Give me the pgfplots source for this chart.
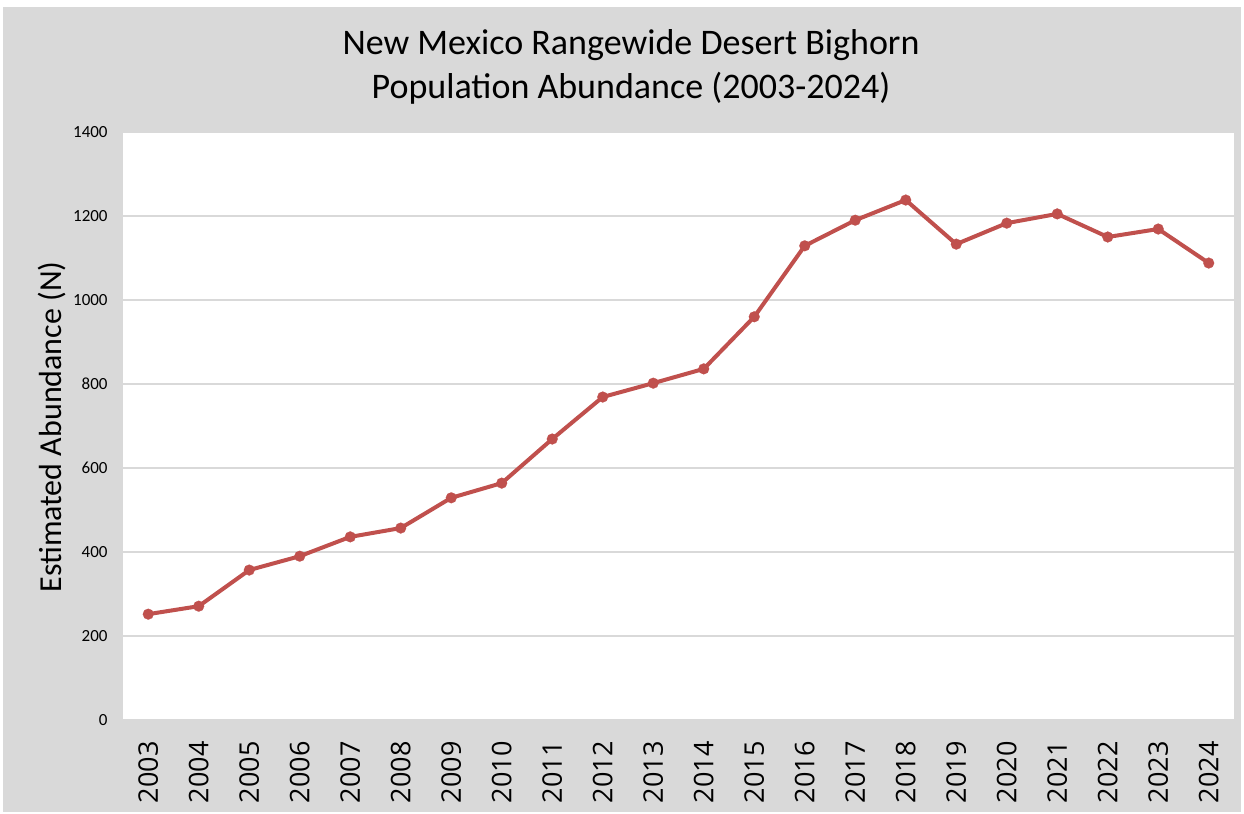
\documentclass[border=0pt]{standalone}
\usepackage{fontspec}
\setmainfont{Carlito}
\newfontfamily\xfont{Open Sans}
\usepackage{pgfplots}
\pgfplotsset{compat=1.18}
\definecolor{bggray}{HTML}{D9D9D9}
\definecolor{gridgray}{HTML}{D9D9D9}
\definecolor{linered}{HTML}{C0504D}
\begin{document}
\begin{tikzpicture}[x=1pt,y=1pt]
\useasboundingbox (0,0) rectangle (622,407);
\fill[white] (0,0) rectangle (622,407);
\fill[bggray] (1.5,1) rectangle (620.5,403.5);
\node[font=\fontsize{18}{21}\selectfont] at (315.5,384.5) {New Mexico Rangewide Desert Bighorn};
\node[font=\fontsize{18}{21}\selectfont] at (315.5,363) {Population Abundance (2003-2024)};
\node[font=\fontsize{16}{19}\selectfont, rotate=90] at (26,193.5) {Estimated Abundance (N)};
\begin{axis}[
  at={(61.5pt,47pt)}, anchor=south west,
  scale only axis, width=555.5pt, height=294pt,
  xmin=-0.5, xmax=21.5, ymin=0, ymax=1400,
  axis background/.style={fill=white},
  axis line style={draw=none},
  major tick length=0pt,
  ytick={0,200,...,1400},
  ymajorgrids, grid style={gridgray, line width=0.6pt},
  xtick={0,...,21},
  xticklabels={2003,2004,2005,2006,2007,2008,2009,2010,2011,2012,2013,2014,2015,2016,2017,2018,2019,2020,2021,2022,2023,2024},
  xticklabel style={rotate=90, anchor=east, inner sep=0pt, font=\xfont\fontsize{13.5}{16}\selectfont},
  xticklabel shift=10.5pt,
  yticklabel style={anchor=east, inner sep=0pt, font=\fontsize{8.5}{10}\selectfont},
  yticklabel shift=7.5pt,
  /pgf/number format/assume math mode=true,
  /pgf/number format/1000 sep={},
  clip=false,
]
\addplot[color=linered, line width=2pt, mark=*, mark size=2.7pt, mark options={fill=linered, draw=linered, line width=0.1pt}] coordinates {
(0,252) (1,271) (2,357) (3,390) (4,436) (5,457) (6,529) (7,564) (8,669) (9,769) (10,802)
(11,836) (12,960) (13,1129) (14,1190) (15,1238) (16,1133) (17,1183) (18,1205) (19,1150) (20,1169) (21,1088)
};
\end{axis}
\end{tikzpicture}
\end{document}
